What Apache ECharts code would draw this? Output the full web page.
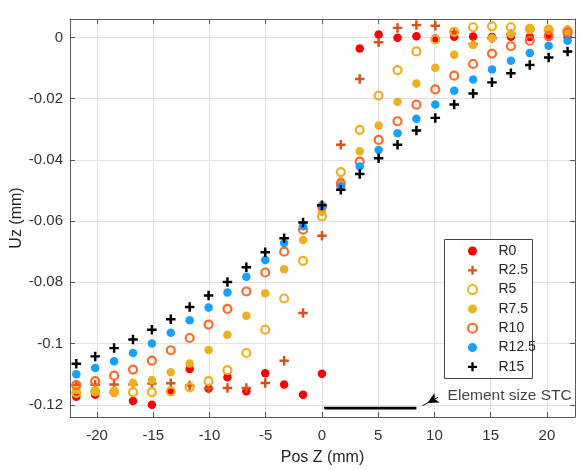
<!DOCTYPE html>
<html>
<head>
<meta charset="utf-8">
<script src="https://cdn.jsdelivr.net/npm/echarts@6/dist/echarts.min.js"></script>
<style>
  html, body { margin: 0; padding: 0; background: #fff; }
  #chart { width: 588px; height: 470px; }
</style>
</head>
<body>
<div id="chart"></div>
<script>
// node positions along Z (mm)
const posZ = [-21.84, -20.16, -18.48, -16.8, -15.12, -13.44, -11.76, -10.08, -8.4, -6.72, -5.04, -3.36, -1.68,
  0, 1.68, 3.36, 5.04, 6.72, 8.4, 10.08, 11.76, 13.44, 15.12, 16.8, 18.48, 20.16, 21.84];

// Uz (mm) for each radius
const r0 = [-0.1174, -0.1167, -0.1160, -0.1188, -0.1200, -0.1156, -0.1083, -0.1147, -0.1110, -0.1156, -0.1097, -0.1134, -0.1167,
  -0.1099, -0.0486, -0.0036, 0.0009, -0.0001, 0.0004, -0.0004, 0.0002, 0.0003, 0.0001, 0.0002, 0.0001, 0.0002, 0.0001];
const r2_5 = [-0.1135, -0.1135, -0.1134, -0.1134, -0.1131, -0.1130, -0.1137, -0.1147, -0.1145, -0.1145, -0.1129, -0.1056, -0.0900,
  -0.0648, -0.0351, -0.0136, -0.0016, 0.0031, 0.0040, 0.0038, 0.0018, -0.0022, -0.0003, 0.0011, 0.0025, 0.0024, 0.0024];
const r5 = [-0.1161, -0.1156, -0.1158, -0.1159, -0.1159, -0.1156, -0.1143, -0.1123, -0.1087, -0.1031, -0.0955, -0.0853, -0.0730,
  -0.0585, -0.0440, -0.0302, -0.0190, -0.0107, -0.0046, -0.0007, 0.0018, 0.0033, 0.0036, 0.0033, 0.0028, 0.0025, 0.0022];
const r7_5 = [-0.1152, -0.1154, -0.1157, -0.1128, -0.1119, -0.1094, -0.1065, -0.1021, -0.0971, -0.0909, -0.0836, -0.0757, -0.0662,
  -0.0570, -0.0470, -0.0372, -0.0288, -0.0210, -0.0151, -0.0099, -0.0057, -0.0025, -0.0003, 0.0011, 0.0026, 0.0024, 0.0024];
const r10 = [-0.1136, -0.1123, -0.1105, -0.1085, -0.1056, -0.1022, -0.0982, -0.0938, -0.0887, -0.0830, -0.0768, -0.0700, -0.0628,
  -0.0552, -0.0477, -0.0406, -0.0335, -0.0274, -0.0220, -0.0170, -0.0125, -0.0087, -0.0053, -0.0029, -0.0011, 0.0005, 0.0016];
const r12_5 = [-0.1100, -0.1080, -0.1058, -0.1031, -0.1000, -0.0965, -0.0924, -0.0882, -0.0833, -0.0782, -0.0727, -0.0672, -0.0617,
  -0.0551, -0.0486, -0.0422, -0.0368, -0.0313, -0.0266, -0.0219, -0.0174, -0.0138, -0.0105, -0.0076, -0.0051, -0.0027, -0.0011];
const r15 = [-0.1066, -0.1042, -0.1015, -0.0987, -0.0955, -0.0921, -0.0881, -0.0843, -0.0799, -0.0751, -0.0702, -0.0656, -0.0605,
  -0.0548, -0.0498, -0.0446, -0.0395, -0.0351, -0.0304, -0.0263, -0.0219, -0.0183, -0.0147, -0.0117, -0.0090, -0.0066, -0.0046];

const seriesNames = ['R0', 'R2.5', 'R5', 'R7.5', 'R10', 'R12.5', 'R15'];

// annotation: element size bar + arrow + note
const elementBar = [[0.2, -0.1211], [8.4, -0.1211]];
const arrowFrom = [10.3, -0.1176];
const arrowTo = [8.95, -0.1203];
const notePos = [11.13, -0.1171];
const noteText = 'Element size STC';

const FONT = '"Liberation Sans", Arial, sans-serif';
const PLUS = 'path://M3.7,0H6.3V3.7H10V6.3H6.3V10H3.7V6.3H0V3.7H3.7Z';

const zip = (ys) => posZ.map((x, i) => [x, ys[i]]);

const dot = (name, ys, color) => ({
  name, type: 'scatter', data: zip(ys), symbol: 'circle', symbolSize: 8.5,
  itemStyle: { color: color, opacity: 1 }
});
const ring = (name, ys, color) => ({
  name, type: 'scatter', data: zip(ys), symbol: 'circle', symbolSize: 8,
  itemStyle: { color: 'rgba(255,255,255,0)', borderColor: color, borderWidth: 2.2, opacity: 1 }
});
const plus = (name, ys, color) => ({
  name, type: 'scatter', data: zip(ys), symbol: PLUS, symbolSize: 9.5, symbolKeepAspect: true,
  itemStyle: { color: color, opacity: 1 }
});

const chart = echarts.init(document.getElementById('chart'), null, { renderer: 'canvas' });

const xCommon = {
  type: 'value', min: -22.4, max: 22.5, splitNumber: 9,
  axisLine: { show: true, onZero: false, lineStyle: { color: '#5a5a5a', width: 1 } },
  axisTick: { show: true, inside: true, length: 5, lineStyle: { color: '#5a5a5a' } }
};
const yCommon = {
  type: 'value', min: -0.124, max: 0.006, splitNumber: 6,
  axisLine: { show: true, onZero: false, lineStyle: { color: '#5a5a5a', width: 1 } },
  axisTick: { show: true, inside: true, length: 5, lineStyle: { color: '#5a5a5a' } }
};

// arrow head: rotate to the line direction and put its tip on arrowTo
const pxPerX = 505 / 44.9, pxPerY = 398 / 0.13;
const sx = (arrowTo[0] - arrowFrom[0]) * pxPerX;
const sy = -(arrowTo[1] - arrowFrom[1]) * pxPerY;   // screen y points down
const slen = Math.hypot(sx, sy);
const headLen = 11;
const headRotate = Math.atan2(-sy, sx) * 180 / Math.PI - 90;
const headOffset = [-sx / slen * headLen / 2, -sy / slen * headLen / 2];

const option = {
  animation: false,
  backgroundColor: '#fff',
  textStyle: { fontFamily: FONT },
  grid: { left: 70, right: 13, top: 19, bottom: 53, containLabel: false, outerBoundsMode: 'none' },
  xAxis: [
    Object.assign({}, xCommon, {
      position: 'bottom',
      name: 'Pos Z (mm)', nameLocation: 'middle', nameGap: 33, nameMoveOverlap: false,
      nameTextStyle: { fontSize: 16, color: '#262626', fontFamily: FONT },
      axisLabel: { margin: 11, fontSize: 15, color: '#333', fontFamily: FONT, showMinLabel: false, showMaxLabel: false },
      splitLine: { show: true, lineStyle: { color: '#e2e2e2', width: 1 } }
    }),
    Object.assign({}, xCommon, {
      position: 'top',
      axisLabel: { show: false },
      splitLine: { show: false }
    })
  ],
  yAxis: [
    Object.assign({}, yCommon, {
      position: 'left',
      name: 'Uz (mm)', nameLocation: 'middle', nameGap: 45, nameMoveOverlap: false,
      nameTextStyle: { fontSize: 16, color: '#262626', fontFamily: FONT },
      axisLabel: {
        margin: 7, fontSize: 15, color: '#333', fontFamily: FONT, showMinLabel: false, showMaxLabel: false,
        formatter: (v) => String(+v.toFixed(2))
      },
      splitLine: { show: true, lineStyle: { color: '#e2e2e2', width: 1 } }
    }),
    Object.assign({}, yCommon, {
      position: 'right',
      axisLabel: { show: false },
      splitLine: { show: false }
    })
  ],
  legend: {
    data: seriesNames,
    orient: 'vertical',
    left: 467, top: 244,
    padding: 0,
    itemWidth: 42, itemHeight: 9, itemGap: 5.3,
    textStyle: { fontSize: 14, color: '#262626', fontFamily: FONT },
    selectedMode: false,
    z: 5
  },
  graphic: [{
    type: 'rect', left: 444, top: 239, z: 4,
    shape: { width: 88, height: 139 },
    style: { fill: '#fff', stroke: '#444', lineWidth: 1 }
  }],
  series: [
    dot('R0', r0, '#ff0000'),
    plus('R2.5', r2_5, '#d95319'),
    ring('R5', r5, '#edb120'),
    dot('R7.5', r7_5, '#edb120'),
    ring('R10', r10, '#ff6a2b'),
    dot('R12.5', r12_5, '#17a1ff'),
    plus('R15', r15, '#000000'),
    {
      name: 'bar', type: 'line', data: elementBar, symbol: 'none', silent: true,
      lineStyle: { color: '#000', width: 2.8 }
    },
    {
      name: 'arrow', type: 'line', silent: true, showSymbol: true,
      lineStyle: { color: '#000', width: 1 },
      itemStyle: { color: '#000' },
      data: [
        { value: arrowFrom, symbol: 'none' },
        { value: arrowTo, symbol: 'arrow', symbolSize: [8, headLen], symbolRotate: headRotate, symbolOffset: headOffset }
      ]
    },
    {
      name: 'note', type: 'scatter', data: [notePos], symbolSize: 1, silent: true,
      itemStyle: { color: 'rgba(0,0,0,0)' },
      label: { show: true, position: 'right', distance: 0, formatter: noteText, fontSize: 15.5, color: '#111', fontFamily: FONT }
    }
  ]
};

chart.setOption(option);
</script>
</body>
</html>
